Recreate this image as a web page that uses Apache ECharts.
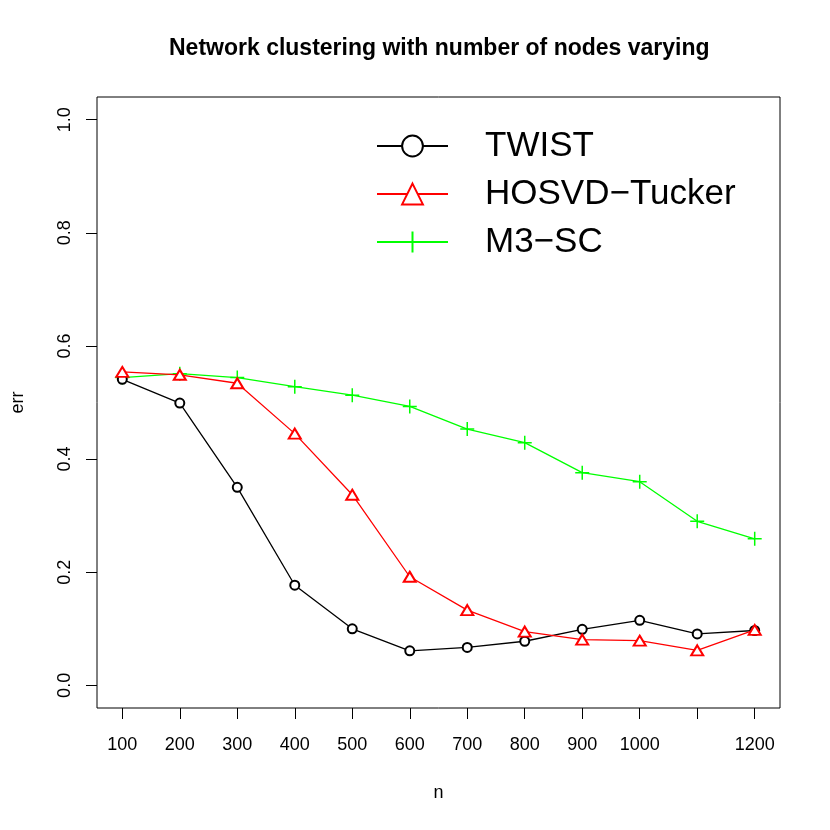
<!DOCTYPE html>
<html>
<head>
<meta charset="utf-8">
<title>Network clustering</title>
<script src="https://cdn.jsdelivr.net/npm/echarts@6/dist/echarts.min.js"></script>
<style>
  html, body { margin: 0; padding: 0; background: #fff; }
  #chart { width: 830px; height: 830px; }
</style>
</head>
<body>
<div id="chart"></div>
<script>
// number of nodes
var nodes = [100, 200, 300, 400, 500, 600, 700, 800, 900, 1000, 1100, 1200];
// error rate of each method
var twistErr = [0.541, 0.499, 0.350, 0.177, 0.100, 0.061, 0.067, 0.078, 0.099, 0.115, 0.091, 0.097];
var hosvdErr = [0.554, 0.549, 0.534, 0.445, 0.337, 0.192, 0.133, 0.095, 0.081, 0.079, 0.062, 0.098];
var m3scErr  = [0.544, 0.551, 0.544, 0.528, 0.513, 0.493, 0.453, 0.429, 0.376, 0.360, 0.290, 0.259];
// axis ticks (1100 has a tick but no label)
var xTicks  = [100, 200, 300, 400, 500, 600, 700, 800, 900, 1000, 1100, 1200];
var xLabels = [100, 200, 300, 400, 500, 600, 700, 800, 900, 1000, 1200];
var yTicks  = [0, 0.2, 0.4, 0.6, 0.8, 1.0];

var FONT = 'Liberation Sans';

function pairs(ys) {
  var out = [];
  for (var i = 0; i < nodes.length; i++) {
    out.push([nodes[i], ys[i]]);
  }
  return out;
}

var chart = echarts.init(document.getElementById('chart'));

var option = {
  animation: false,
  backgroundColor: '#fff',
  title: {
    text: 'Network clustering with number of nodes varying',
    left: 169,
    top: 37,
    padding: 0,
    textStyle: { fontFamily: FONT, fontSize: 23, fontWeight: 'bold', color: '#000' }
  },
  legend: {
    orient: 'vertical',
    left: 371,
    top: 123,
    itemWidth: 71,
    itemHeight: 26,
    itemGap: 12,
    textStyle: { fontFamily: FONT, fontSize: 35, lineHeight: 36, color: '#000', padding: [0, 0, 0, 32] },
    data: ['TWIST', 'HOSVD\u2212Tucker', 'M3\u2212SC']
  },
  grid: {
    left: 97, right: 50, top: 97, bottom: 122,
    show: true,
    borderColor: '#000',
    borderWidth: 1
  },
  xAxis: {
    type: 'value',
    min: 56,
    max: 1244,
    name: 'n',
    nameLocation: 'middle',
    nameGap: 76,
    nameTextStyle: { fontFamily: FONT, fontSize: 18, color: '#000' },
    axisLine: { show: false, onZero: false },
    axisTick: { show: true, length: 11, customValues: xTicks, lineStyle: { color: '#000', width: 1 } },
    axisLabel: {
      customValues: xLabels, margin: 28, fontFamily: FONT, fontSize: 18, color: '#000',
      formatter: function (v) { return String(v); }
    },
    splitLine: { show: false }
  },
  yAxis: {
    type: 'value',
    min: -0.04,
    max: 1.04,
    name: 'err',
    nameLocation: 'middle',
    nameGap: 70,
    nameRotate: 90,
    nameTextStyle: { fontFamily: FONT, fontSize: 18, color: '#000' },
    axisLine: { show: false, onZero: false },
    axisTick: { show: true, length: 11, customValues: yTicks, lineStyle: { color: '#000', width: 1 } },
    axisLabel: {
      customValues: yTicks, margin: 23, rotate: 90,
      fontFamily: FONT, fontSize: 18, color: '#000',
      formatter: function (v) { return v.toFixed(1); }
    },
    splitLine: { show: false }
  },
  series: [
    {
      name: 'TWIST',
      type: 'line',
      data: pairs(twistErr),
      symbol: 'emptyCircle',
      symbolSize: 9,
      color: '#000000',
      lineStyle: { color: '#000000', width: 1.3 },
      itemStyle: { color: '#000000', borderColor: '#000000', borderWidth: 1.5 },
      z: 3
    },
    {
      name: 'HOSVD\u2212Tucker',
      type: 'line',
      data: pairs(hosvdErr),
      symbol: 'emptyTriangle',
      symbolSize: [12, 10],
      color: '#ff0000',
      lineStyle: { color: '#ff0000', width: 1.3 },
      itemStyle: { color: '#ff0000', borderColor: '#ff0000', borderWidth: 1.5 },
      z: 4
    },
    {
      name: 'M3\u2212SC',
      type: 'line',
      data: pairs(m3scErr),
      symbol: 'path://M5,0 L5,10 M0,5 L10,5',
      symbolSize: 14,
      color: '#00ff00',
      lineStyle: { color: '#00ff00', width: 1.3 },
      itemStyle: { color: '#00ff00', borderColor: '#00ff00', borderWidth: 1.5 },
      z: 2
    }
  ]
};

option && chart.setOption(option);
</script>
</body>
</html>
